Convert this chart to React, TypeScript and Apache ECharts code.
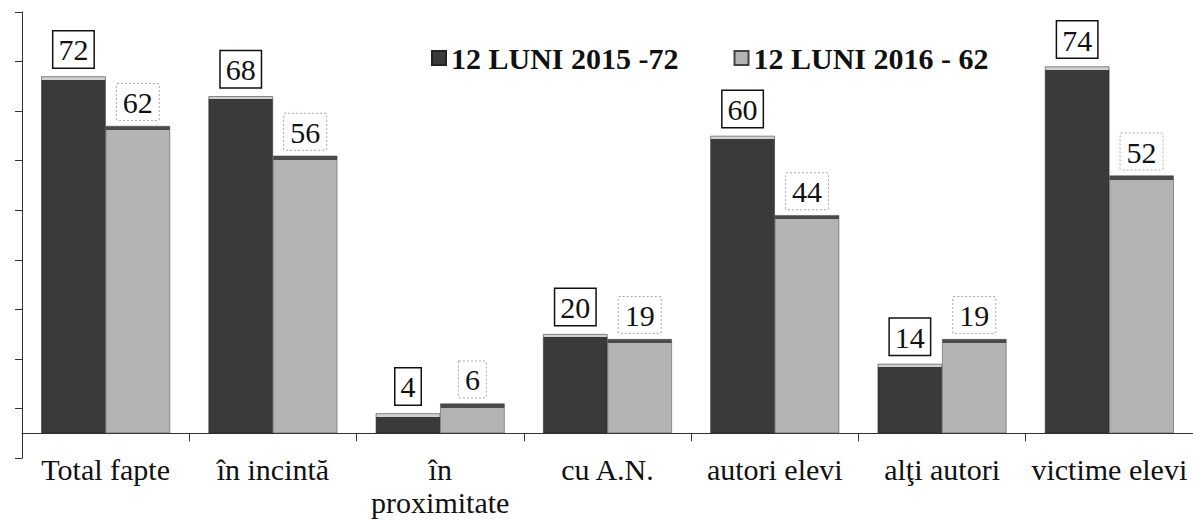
import React, { useEffect, useRef } from "react";
import * as echarts from "echarts";

const categories = [
  "Total fapte",
  "în incintă",
  "în\nproximitate",
  "cu A.N.",
  "autori elevi",
  "alţi autori",
  "victime elevi",
];
const series2015 = [72, 68, 4, 20, 60, 14, 74];
const series2016 = [62, 56, 6, 19, 44, 19, 52];
const seriesNames = ["12 LUNI 2015 -72", "12 LUNI 2016 - 62"];

const Y_MIN = -5;
const Y_MAX = 85;
const GRID_TOP = 12;
const GRID_BOTTOM = 62;
const HEIGHT = 520;
const PX_PER_UNIT = (HEIGHT - GRID_TOP - GRID_BOTTOM) / (Y_MAX - Y_MIN);

const DARK = "#3a3a3a";
const LIGHT = "#b3b3b3";
const DARK_CAP = "#d0d0d0";
const LIGHT_CAP = "#4a4a4a";

function capped(value: number, main: string, cap: string, capPx: number) {
  const h = Math.max(value * PX_PER_UNIT, 1);
  const f = Math.min(capPx / h, 0.5);
  return new echarts.graphic.LinearGradient(0, 0, 0, 1, [
    { offset: 0, color: cap },
    { offset: f, color: cap },
    { offset: f, color: main },
    { offset: 1, color: main },
  ]);
}

export default function App() {
  const ref = useRef<HTMLDivElement>(null);
  useEffect(() => {
    if (!ref.current) return;
    const chart = echarts.init(ref.current, undefined, { renderer: "svg" });
    const font = "Liberation Serif";
    chart.setOption({
      animation: false,
      backgroundColor: "#ffffff",
      textStyle: { fontFamily: font },
      legend: {
        left: 426,
        top: 37,
        itemWidth: 14,
        itemHeight: 14,
        itemGap: 55,
        icon: "rect",
        textStyle: {
          fontFamily: font,
          fontWeight: "bold",
          fontSize: 30,
          color: "#111",
          lineHeight: 32,
        },
        data: seriesNames,
      },
      grid: {
        left: 22,
        right: 0,
        top: GRID_TOP,
        bottom: GRID_BOTTOM,
        containLabel: false,
        outerBoundsMode: "none",
      },
      xAxis: {
        type: "category",
        data: categories,
        axisLine: { onZero: true, lineStyle: { color: "#333", width: 1 } },
        axisTick: { show: true, length: 8, lineStyle: { color: "#333" } },
        axisLabel: {
          interval: 0,
          margin: -5,
          fontFamily: font,
          fontSize: 30,
          lineHeight: 33,
          color: "#111",
        },
      },
      yAxis: {
        type: "value",
        min: Y_MIN,
        max: Y_MAX,
        interval: 10,
        axisLine: { show: true, lineStyle: { color: "#333", width: 1 } },
        axisTick: { show: true, length: 7, lineStyle: { color: "#333" } },
        axisLabel: { show: false },
        splitLine: { show: false },
      },
      series: [
        {
          name: seriesNames[0],
          type: "bar",
          barGap: "0%",
          barCategoryGap: "23%",
          itemStyle: { color: DARK, borderColor: "#222", borderWidth: 0.5 },
          data: series2015.map((v) => ({
            value: v,
            itemStyle: { color: capped(v, DARK, DARK_CAP, 3) },
          })),
          label: {
            show: true,
            position: "top",
            distance: 9,
            fontFamily: font,
            fontSize: 30,
            lineHeight: 31,
            color: "#111",
            backgroundColor: "#fff",
            borderColor: "#111",
            borderWidth: 1.5,
            padding: [3, 5, 2, 5],
          },
        },
        {
          name: seriesNames[1],
          type: "bar",
          itemStyle: { color: LIGHT, borderColor: "#444", borderWidth: 0.5 },
          data: series2016.map((v) => ({
            value: v,
            itemStyle: { color: capped(v, LIGHT, LIGHT_CAP, 4) },
          })),
          label: {
            show: true,
            position: "top",
            distance: 6,
            fontFamily: font,
            fontSize: 30,
            lineHeight: 31,
            color: "#111",
            backgroundColor: "#fff",
            borderColor: "#aaa",
            borderWidth: 1,
            borderType: "dotted",
            padding: [3, 6, 2, 6],
          },
        },
      ],
    });
    return () => chart.dispose();
  }, []);
  return (
    <div
      ref={ref}
      style={{ position: "fixed", left: 0, top: 0, width: 1193, height: HEIGHT, background: "#fff" }}
    />
  );
}
